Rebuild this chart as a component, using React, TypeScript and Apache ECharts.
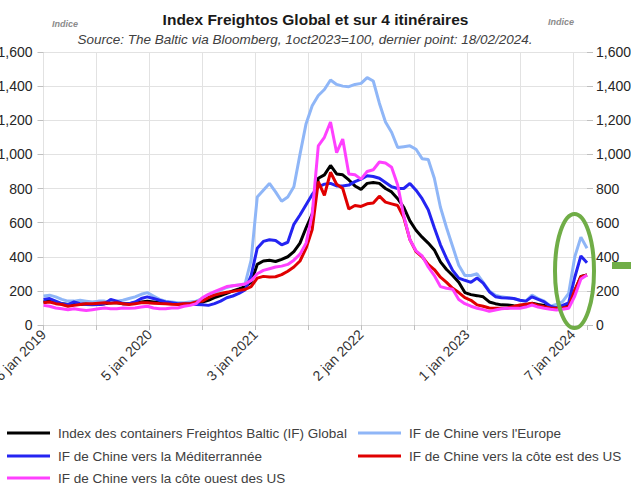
import React, { useEffect, useRef } from "react";
import * as echarts from "echarts";

// Weekly index, sampled every 3 weeks from 6 jan 2019 to 18/02/2024
const STEP_WEEKS = 3;

const tickWeeks = [0, 52, 104, 156, 208, 260];
const tickLabels = ["6 jan 2019", "5 jan 2020", "3 jan 2021", "2 jan 2022", "1 jan 2023", "7 jan 2024"];

const yTicks = [0, 200, 400, 600, 800, 1000, 1200, 1400, 1600];

const seriesNames = [
  "Index des containers Freightos Baltic (IF) Global",
  "IF de Chine vers l'Europe",
  "IF de Chine vers la Méditerrannée",
  "IF de Chine vers la côte est des US",
  "IF de Chine vers la côte ouest des US",
];

const globalIdx = [
  135, 140, 130, 125, 120, 125, 120, 125, 125, 120,
  125, 130, 130, 125, 125, 130, 135, 140, 135, 130,
  130, 128, 125, 125, 128, 130, 135, 145, 160, 172,
  185, 200, 212, 225, 250, 355, 375, 380, 372, 385,
  400, 430, 480, 570, 650, 860, 880, 935, 885, 880,
  850, 815, 795, 830, 835, 830, 800, 780, 740, 690,
  610, 555, 515, 480, 440, 370, 325, 290, 250, 190,
  178, 172, 165, 135, 125, 118, 117, 113, 110, 118,
  127, 120, 115, 105, 98, 108, 117, 200, 285, 293,
];

const europe = [
  170, 175, 165, 150, 140, 140, 145, 140, 135, 140,
  140, 135, 140, 145, 155, 165, 180, 190, 170, 150,
  140, 135, 130, 130, 135, 140, 155, 170, 190, 205,
  220, 230, 235, 240, 380, 750, 790, 830, 780, 725,
  750, 810, 1000, 1180, 1285, 1345, 1380, 1436, 1410, 1400,
  1397, 1410, 1416, 1450, 1430, 1300, 1190, 1130, 1040, 1045,
  1050, 1030, 975, 970, 860, 690, 570, 460, 350, 290,
  290, 300, 250, 200, 175, 165, 160, 155, 145, 140,
  175, 155, 140, 110, 120, 137, 186, 400, 515, 450,
];

const mediterranee = [
  150, 155, 140, 125, 120, 135, 125, 120, 118, 120,
  125, 150, 140, 125, 125, 135, 155, 165, 155, 145,
  135, 130, 125, 125, 125, 120, 118, 115, 125, 140,
  160, 170, 185, 205, 290, 450, 490, 500, 495, 470,
  485, 590, 645, 705, 765, 810, 825, 830, 815, 815,
  820, 840, 855, 875, 870, 860, 835, 810, 800, 800,
  830, 790, 740, 675, 570, 470, 390, 320, 275, 262,
  250, 275, 245, 195, 166, 160, 158, 155, 145, 140,
  165, 150, 135, 110, 100, 115, 130, 280, 405, 365,
];

const usEast = [
  130, 135, 125, 120, 110, 115, 120, 125, 125, 128,
  130, 128, 130, 125, 120, 125, 130, 130, 128, 126,
  125, 122, 120, 125, 125, 135, 140, 160, 175, 185,
  192, 197, 203, 208, 225, 275, 285, 282, 283, 295,
  315, 340, 375, 450, 560, 840, 760, 895, 825, 800,
  680, 700, 695, 710, 715, 755, 720, 710, 700, 630,
  500, 430, 400, 355, 325, 280, 250, 215, 190, 160,
  145, 118, 110, 100, 98, 98, 100, 108, 117, 122,
  127, 115, 107, 100, 98, 100, 107, 205, 283, 293,
];

const usWest = [
  115, 110, 100, 95, 90, 95, 90, 85, 90, 95,
  100, 95, 95, 100, 98, 100, 105, 110, 100, 95,
  95, 100, 100, 110, 115, 125, 160, 180, 195, 210,
  225, 230, 235, 240, 260, 300, 320, 330, 340, 345,
  355, 380, 415, 480, 650, 1050, 1100, 1190, 1010, 1090,
  885, 880, 855, 900, 910, 955, 950, 925, 820, 640,
  500, 435, 405, 340, 290, 225, 215, 210, 150, 125,
  110, 98, 90, 80, 88, 95, 98, 98, 98, 105,
  117, 105, 98, 92, 88, 92, 98, 170, 270, 293,
];

const seriesValues = [globalIdx, europe, mediterranee, usEast, usWest];
const seriesColors = ["#000000", "#8FB6F7", "#2424F2", "#E00000", "#FF40FF"];

// legend slots: [series index, column, row]
const legendSlots = [
  [0, 0, 0],
  [1, 1, 0],
  [2, 0, 1],
  [3, 1, 1],
  [4, 0, 2],
];
const legendColumnsX = [7, 358];
const legendRowsY = [425, 448, 470];

const FONT = "Liberation Sans";

export default function App() {
  const ref = useRef<HTMLDivElement>(null);

  useEffect(() => {
    if (!ref.current) return;
    const chart = echarts.init(ref.current, null, { renderer: "svg" });

    const lastWeek = (globalIdx.length - 1) * STEP_WEEKS;
    const nVLines = Math.floor(lastWeek / 26) + 1;
    const vColors: string[] = [];
    for (let i = 0; i < nVLines; i++) vColors.push("#e2e2e2");
    vColors.push("rgba(0,0,0,0)");

    const series = seriesValues.map((vals, s) => ({
      name: seriesNames[s],
      type: "line",
      yAxisIndex: 0,
      showSymbol: false,
      symbol: "none",
      data: vals.map((v, i) => [i * STEP_WEEKS, v]),
      lineStyle: { color: seriesColors[s], width: 3 },
      itemStyle: { color: seriesColors[s] },
      z: 2 + s,
    }));

    const legends = legendSlots.map(([s, c, r]) => ({
      data: [seriesNames[s]],
      orient: "horizontal",
      left: legendColumnsX[c],
      top: legendRowsY[r],
      padding: 0,
      icon: "rect",
      itemWidth: 43,
      itemHeight: 3,
      selectedMode: false,
      textStyle: { fontFamily: FONT, fontSize: 13.5, color: "#404040", lineHeight: 16, padding: [0, 0, 0, 3] },
    }));

    const fmtNum = (v: number) => v.toLocaleString("en-US");
    const axisTickStyle = { color: "#bfbfbf", width: 1 };

    chart.setOption({
      animation: false,
      textStyle: { fontFamily: FONT },
      title: {
        text: "Index Freightos Global et sur 4 itinéraires",
        left: "center",
        top: 6,
        textStyle: { fontFamily: FONT, fontSize: 15.5, fontWeight: "bold", color: "#1a1a1a" },
      },
      graphic: [
        {
          type: "text",
          x: 305,
          y: 39,
          style: {
            text: "Source: The Baltic via Bloomberg, 1oct2023=100, dernier point: 18/02/2024.",
            fontFamily: FONT,
            fontSize: 13.5,
            fontStyle: "italic",
            fill: "#404040",
            align: "center",
            verticalAlign: "middle",
          },
        },
        {
          type: "text",
          x: 52,
          y: 19,
          style: { text: "Indice", fontFamily: FONT, fontSize: 9, fontStyle: "italic", fontWeight: "bold", fill: "#8c8c8c" },
        },
        {
          type: "text",
          x: 548,
          y: 17,
          style: { text: "Indice", fontFamily: FONT, fontSize: 9, fontStyle: "italic", fontWeight: "bold", fill: "#8c8c8c" },
        },
        {
          type: "ellipse",
          shape: { cx: 574.5, cy: 271, rx: 19.5, ry: 57 },
          style: { fill: "none", stroke: "#70AD47", lineWidth: 4 },
          z: 100,
        },
        {
          type: "rect",
          shape: { x: 612, y: 262, width: 19, height: 7 },
          style: { fill: "#70AD47" },
          z: 100,
        },
      ],
      legend: legends,
      grid: { left: 43.5, right: 44, top: 52, bottom: 161, containLabel: false, outerBoundsMode: "none" },
      xAxis: {
        type: "value",
        min: 0,
        max: lastWeek,
        interval: 26,
        axisLine: { show: true, lineStyle: { color: "#d9d9d9" } },
        axisTick: { show: true, length: 5, lineStyle: axisTickStyle },
        splitLine: { show: true, lineStyle: { color: vColors, width: 1 } },
        axisLabel: {
          rotate: 45,
          fontFamily: FONT,
          fontSize: 14,
          color: "#333333",
          margin: 7,
          showMinLabel: true,
          showMaxLabel: true,
          formatter: (v: number) => {
            const k = tickWeeks.indexOf(Math.round(v));
            return k >= 0 ? tickLabels[k] : "";
          },
        },
      },
      yAxis: [
        {
          type: "value",
          position: "left",
          min: yTicks[0],
          max: yTicks[yTicks.length - 1],
          interval: yTicks[1] - yTicks[0],
          axisLine: { show: false },
          axisTick: { show: true, length: 6, lineStyle: axisTickStyle },
          splitLine: { show: true, lineStyle: { color: "#e2e2e2", width: 1 } },
          axisLabel: { fontFamily: FONT, fontSize: 14, color: "#262626", margin: 11, formatter: fmtNum },
        },
        {
          type: "value",
          position: "right",
          min: yTicks[0],
          max: yTicks[yTicks.length - 1],
          interval: yTicks[1] - yTicks[0],
          axisLine: { show: false },
          axisTick: { show: true, length: 6, lineStyle: axisTickStyle },
          splitLine: { show: false },
          axisLabel: { fontFamily: FONT, fontSize: 14, color: "#262626", margin: 9, formatter: fmtNum },
        },
      ],
      series,
    });

    return () => chart.dispose();
  }, []);

  return (
    <div
      ref={ref}
      style={{ position: "fixed", left: 0, top: 0, width: 631, height: 486, background: "#ffffff" }}
    />
  );
}
